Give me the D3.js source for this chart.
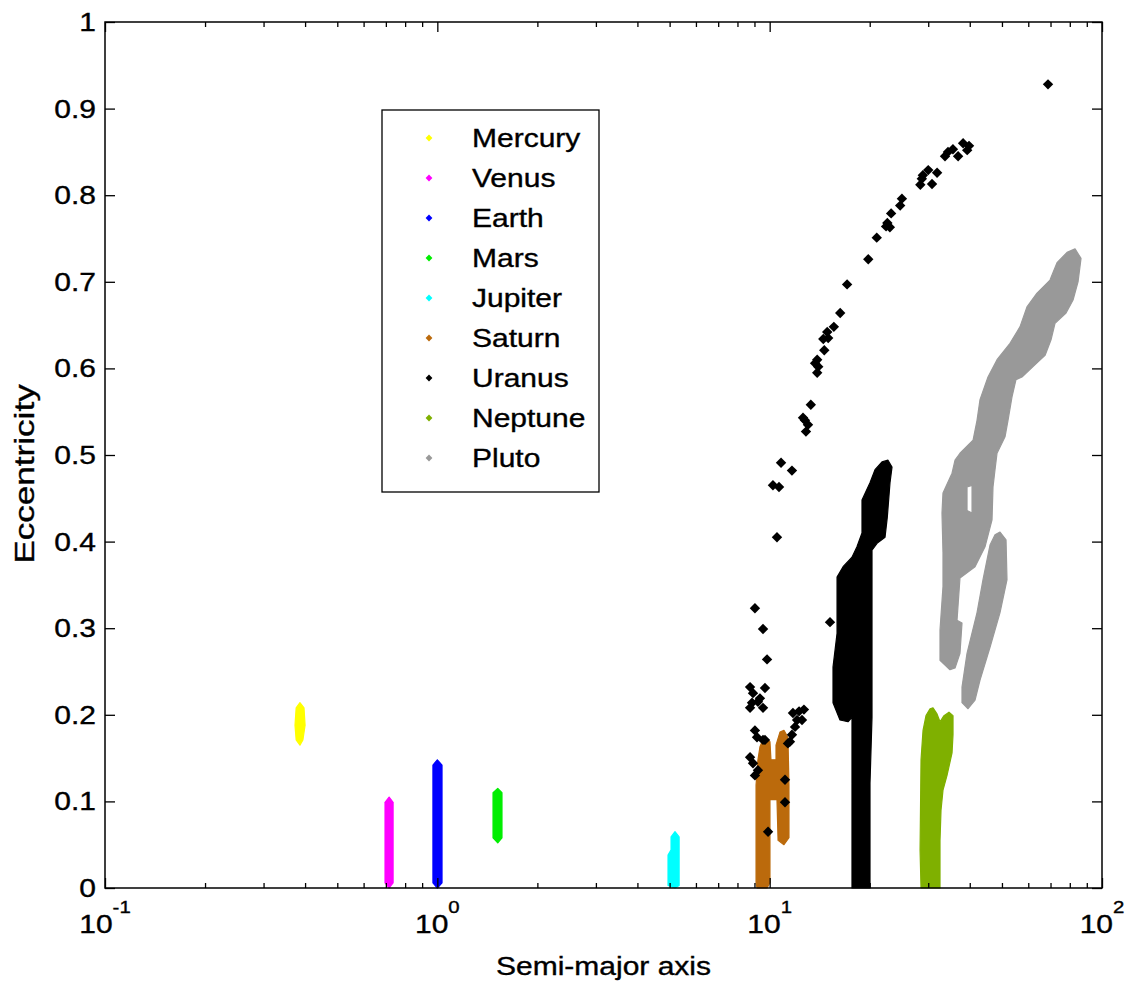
<!DOCTYPE html>
<html>
<head>
<meta charset="utf-8">
<script src="https://cdn.jsdelivr.net/npm/d3@7"></script>
<style>
  body { margin: 0; background: #fff; }
  text { font-family: "Liberation Sans", Arial, Helvetica, sans-serif; fill: #000; stroke: #000; stroke-width: 0.35; }
</style>
</head>
<body>
<svg id="chart" width="1126" height="987"></svg>
<script>
// ---- data: semi-major axis (AU) vs eccentricity for each body ----
const planetNames = ["Mercury", "Venus", "Earth", "Mars", "Jupiter", "Saturn", "Uranus", "Neptune", "Pluto"];

// Outlines [a, e] of the dense point clouds traced by each body
const mercuryCloud = [[0.386,0.214],[0.397,0.208],[0.400,0.188],[0.394,0.171],[0.386,0.165],[0.376,0.171],[0.373,0.188],[0.376,0.208]];
const venusCloud   = [[0.716,0.105],[0.736,0.099],[0.736,0.006],[0.716,0],[0.696,0.006],[0.696,0.099]];
const earthCloud   = [[1.0,0.148],[1.033,0.142],[1.033,0.006],[1.0,0],[0.970,0.006],[0.970,0.142]];
const marsCloud    = [[1.52,0.115],[1.565,0.110],[1.565,0.058],[1.52,0.052],[1.471,0.058],[1.471,0.110]];
const jupiterCloud = [[5.19,0.065],[5.34,0.059],[5.34,0.003],[5.19,0],[4.945,0.003],[4.945,0.038],[5.05,0.044],[5.05,0.059]];
const saturnCloud  = [[9.62,0.174],[10.02,0.169],[10.09,0.148],[10.45,0.148],[10.45,0.165],[10.74,0.180],[11.04,0.182],[11.35,0.174],[11.43,0.119],[11.43,0.058],[11.04,0.050],[10.60,0.055],[10.52,0.102],[10.02,0.102],[10.02,0.006],[9.82,0],[9.16,0],[9.10,0.006],[9.10,0.119],[9.22,0.148],[9.35,0.163]];
const uranusCloud  = [[22.70,0.494],[23.34,0.486],[23.02,0.468],[22.59,0.428],[22.24,0.405],[21.04,0.398],[20.32,0.390],[20.32,0.313],[20.32,0.197],[20.04,0.121],[20.04,0],[17.69,0],[17.69,0.197],[17.21,0.192],[16.28,0.194],[15.51,0.214],[15.51,0.255],[15.95,0.294],[15.95,0.359],[16.63,0.371],[17.69,0.382],[18.31,0.394],[18.96,0.410],[18.96,0.448],[20.04,0.468],[20.75,0.483],[21.78,0.492]];
const neptuneCloud = [[30.38,0.207],[31.01,0.208],[31.88,0.201],[32.55,0.192],[33.46,0.199],[34.64,0.203],[35.62,0.199],[35.62,0.177],[35.38,0.156],[34.17,0.130],[33.23,0.113],[32.78,0.090],[32.55,0.055],[32.55,0],[28.54,0],[28.35,0.044],[28.54,0.148],[28.94,0.182],[29.54,0.199]];
const plutoCloudUpper = [[82.96,0.738],[86.47,0.727],[84.70,0.700],[81.82,0.679],[77.95,0.664],[72.21,0.652],[70.24,0.633],[67.38,0.615],[62.00,0.602],[57.44,0.590],[55.10,0.587],[53.60,0.567],[52.14,0.540],[51.07,0.521],[48.32,0.502],[47.65,0.483],[46.99,0.463],[46.67,0.425],[44.46,0.394],[41.49,0.371],[37.38,0.358],[36.62,0.309],[37.91,0.306],[37.38,0.271],[36.12,0.254],[34.88,0.252],[32.55,0.263],[32.55,0.298],[33.23,0.348],[33.23,0.387],[33.00,0.433],[33.23,0.456],[35.38,0.479],[36.12,0.494],[37.38,0.502],[40.92,0.517],[42.07,0.540],[42.95,0.564],[45.39,0.590],[48.32,0.610],[52.87,0.629],[56.65,0.648],[59.46,0.671],[63.74,0.687],[69.75,0.702],[73.22,0.722],[78.49,0.734]];
const plutoCloudHole  = [[39.25,0.463],[40.64,0.465],[40.64,0.433],[39.25,0.436]];
const plutoCloudLower = [[49.33,0.411],[51.43,0.402],[51.78,0.356],[49.33,0.318],[46.03,0.278],[42.95,0.240],[41.49,0.217],[39.53,0.207],[37.91,0.214],[37.91,0.232],[39.25,0.271],[42.07,0.318],[43.85,0.356],[46.03,0.396],[47.65,0.408]];

// Isolated Uranus samples
const uranusPoints = [
  [68.8,0.928],
  [38.2,0.860],[39.8,0.857],[39.3,0.852],[35.6,0.853],[36.9,0.845],[33.7,0.845],[34.4,0.850],
  [30.0,0.829],[28.9,0.823],[31.9,0.826],[28.7,0.819],[30.8,0.813],[28.4,0.812],
  [25.0,0.796],[24.7,0.788],[23.2,0.779],[22.6,0.768],[23.0,0.763],[22.4,0.764],
  [21.0,0.751],[19.8,0.726],[17.1,0.697],[16.3,0.664],[15.6,0.648],
  [14.9,0.642],[14.5,0.634],[15.0,0.635],[14.6,0.621],[13.9,0.610],[13.7,0.606],[14.0,0.602],[13.9,0.595],
  [13.3,0.558],[12.6,0.543],[12.77,0.540],[13.04,0.535],[12.86,0.527],
  [10.82,0.491],[11.67,0.482],[10.23,0.465],[10.67,0.463],
  [10.52,0.405],[9.03,0.323],[9.55,0.299],[9.82,0.264],[15.19,0.307],
  [8.73,0.232],[8.91,0.225],[9.35,0.219],[9.68,0.231],[8.85,0.214],[9.22,0.215],[9.55,0.208],[8.73,0.208],
  [11.75,0.202],[12.68,0.206],[12.26,0.204],[12.51,0.194],[12.09,0.194],[11.92,0.186],[11.67,0.177],[11.51,0.169],[11.35,0.167],
  [9.03,0.182],[9.16,0.174],[9.55,0.171],[9.68,0.171],
  [8.73,0.151],[8.91,0.144],[9.22,0.136],[9.03,0.130],
  [11.12,0.125],[11.12,0.099],[9.89,0.065]
];

// Axis ticks
const eTicks = [0, 0.1, 0.2, 0.3, 0.4, 0.5, 0.6, 0.7, 0.8, 0.9, 1];
const eTickLabels = ["0", "0.1", "0.2", "0.3", "0.4", "0.5", "0.6", "0.7", "0.8", "0.9", "1"];
const aMajorTicks = [0.1, 1, 10, 100];
const aTickExponents = ["-1", "0", "1", "2"];
const aMinorTicks = [0.2,0.3,0.4,0.5,0.6,0.7,0.8,0.9, 2,3,4,5,6,7,8,9, 20,30,40,50,60,70,80,90];

// ---- styling ----
const planetColors = ["#ffff00", "#ff00ff", "#0000ff", "#00ee00", "#00ffff", "#bb6a0c", "#000000", "#7fb000", "#999999"];
const cloudsByPlanet = [
  [mercuryCloud], [venusCloud], [earthCloud], [marsCloud], [jupiterCloud],
  [saturnCloud], [uranusCloud], [neptuneCloud], [plutoCloudUpper, plutoCloudHole, plutoCloudLower]
];

const plot = { left: 105, right: 1102, top: 22, bottom: 888 };
const svg = d3.select("#chart");

const x = d3.scaleLog().domain([0.1, 100]).range([plot.left, plot.right]);
const y = d3.scaleLinear().domain([0, 1]).range([plot.bottom, plot.top]);

const outline = d3.line().x(d => x(d[0])).y(d => y(d[1]));

// diamond marker (square rotated 45 degrees)
const diamond = r => `M0,${-r}L${r},0L0,${r}L${-r},0Z`;

const marks = svg.append("g");
planetNames.forEach((name, i) => {
  const path = cloudsByPlanet[i].map(poly => outline(poly) + "Z").join("");
  marks.append("path")
    .attr("d", path)
    .attr("fill", planetColors[i])
    .attr("fill-rule", "evenodd")
    .attr("stroke", planetColors[i])
    .attr("stroke-width", 1.2)
    .attr("stroke-linejoin", "round");
  if (name === "Uranus") {
    marks.append("g").selectAll("path")
      .data(uranusPoints)
      .join("path")
      .attr("transform", d => `translate(${x(d[0])},${y(d[1])})`)
      .attr("d", diamond(5.2))
      .attr("fill", planetColors[i]);
  }
});

// ---- axes: ticks point inward on all four sides ----
function ticksOnly(axis) { return axis.tickFormat("").tickSizeOuter(0); }
const axesG = svg.append("g");
axesG.append("g").attr("transform", `translate(0,${plot.bottom})`)
  .call(ticksOnly(d3.axisBottom(x).tickValues(aMajorTicks).tickSizeInner(-10)));
axesG.append("g").attr("transform", `translate(0,${plot.bottom})`)
  .call(ticksOnly(d3.axisBottom(x).tickValues(aMinorTicks).tickSizeInner(-5)));
axesG.append("g").attr("transform", `translate(0,${plot.top})`)
  .call(ticksOnly(d3.axisTop(x).tickValues(aMajorTicks).tickSizeInner(-10)));
axesG.append("g").attr("transform", `translate(0,${plot.top})`)
  .call(ticksOnly(d3.axisTop(x).tickValues(aMinorTicks).tickSizeInner(-5)));
axesG.append("g").attr("transform", `translate(${plot.left},0)`)
  .call(ticksOnly(d3.axisLeft(y).tickValues(eTicks).tickSizeInner(-10)));
axesG.append("g").attr("transform", `translate(${plot.right},0)`)
  .call(ticksOnly(d3.axisRight(y).tickValues(eTicks).tickSizeInner(-10)));
axesG.selectAll(".domain").remove();
axesG.selectAll(".tick line").attr("stroke", "#000").attr("stroke-width", 1.3);

svg.append("rect")
  .attr("x", plot.left).attr("y", plot.top)
  .attr("width", plot.right - plot.left).attr("height", plot.bottom - plot.top)
  .attr("fill", "none").attr("stroke", "#000").attr("stroke-width", 1.5);

// ---- labels (text slightly widened) ----
const SX = 1.2;
function label(g, px, py, str, size, anchor, extra, sx) {
  return g.append("text")
    .attr("transform", `translate(${px},${py}) ${extra || ""} scale(${sx || SX},1)`)
    .attr("text-anchor", anchor)
    .attr("font-size", size)
    .text(str);
}

const labelsG = svg.append("g");
eTicks.forEach((v, i) => {
  label(labelsG, 96, y(v) + 9, eTickLabels[i], 25, "end");
});
aMajorTicks.forEach((v, i) => {
  const t = labelsG.append("text")
    .attr("transform", `translate(${x(v)},933) scale(${SX},1)`)
    .attr("text-anchor", "middle")
    .attr("font-size", 25);
  t.append("tspan").text("10");
  t.append("tspan").attr("dy", -20).attr("font-size", 17).text(aTickExponents[i]);
});

label(labelsG, (plot.left + plot.right) / 2, 975, "Semi-major axis", 25, "middle");
label(labelsG, 34, 474, "Eccentricity", 27, "middle", "rotate(-90)", 1.3);

// ---- legend ----
const legend = svg.append("g");
legend.append("rect")
  .attr("x", 382).attr("y", 110).attr("width", 217).attr("height", 382)
  .attr("fill", "#fff").attr("stroke", "#000").attr("stroke-width", 1.3);
planetNames.forEach((name, i) => {
  const cy = 138 + i * 40;
  legend.append("path")
    .attr("transform", `translate(429,${cy})`)
    .attr("d", diamond(3.4))
    .attr("fill", planetColors[i]);
  label(legend, 472, cy + 9, name, 25, "start");
});
</script>
</body>
</html>
